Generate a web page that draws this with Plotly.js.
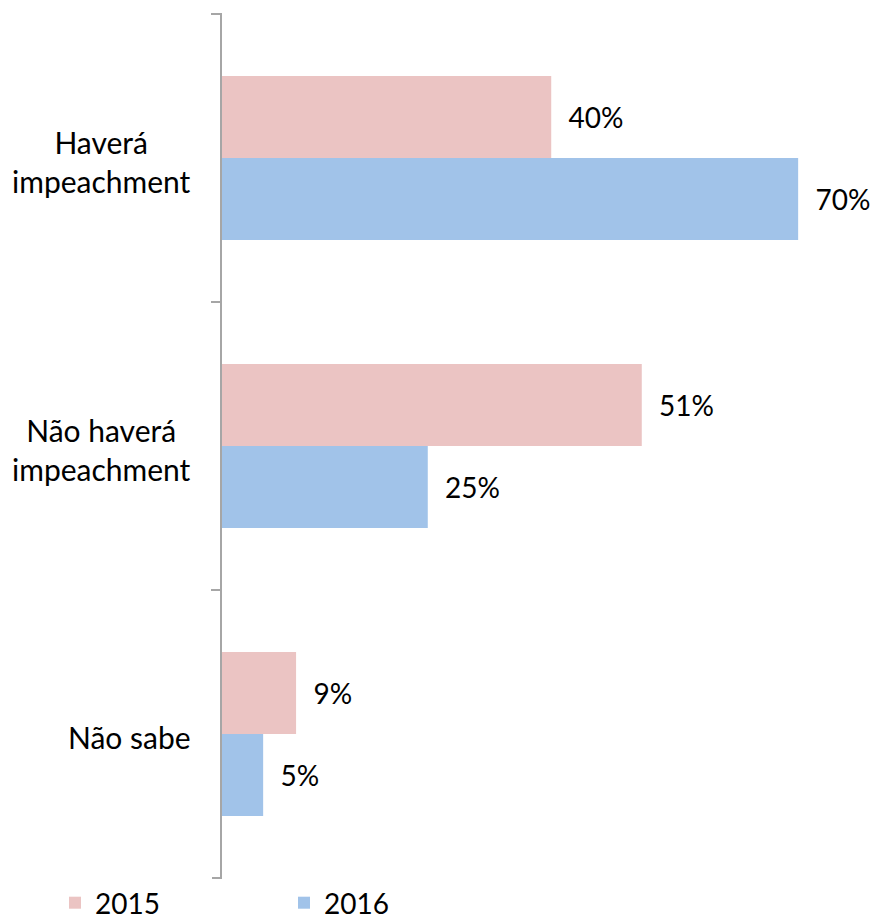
<!DOCTYPE html>
<html>
<head>
<meta charset="utf-8">
<script src="https://cdn.plot.ly/plotly-3.0.1.min.js"></script>
<style>html,body{margin:0;padding:0;background:#fff;}</style>
</head>
<body>
<div id="chart" style="width:872px;height:917px;"></div>
<script>
const categories = ["Haverá<br>impeachment", "Não haverá<br>impeachment", "Não sabe"];
const seriesNames = ["2015", "2016"];
const values2015 = [40, 51, 9];
const values2016 = [70, 25, 5];
const seriesColors = ["#EBC4C3", "#A1C3E9"];

const FONT = "Lato, 'Open Sans', sans-serif";
const NB = "\u00a0\u00a0";
const AXIS_GREY = "#A6A6A6";

function barTrace(name, vals, color) {
  return {
    type: "bar",
    orientation: "h",
    name: name,
    y: categories,
    x: vals,
    marker: {color: color, line: {width: 0}},
    text: vals.map(v => NB + v + "%"),
    textposition: "outside",
    textfont: {family: FONT, size: 28, color: "#000"},
    constraintext: "none",
    cliponaxis: false,
    hoverinfo: "skip"
  };
}

const data = [
  barTrace(seriesNames[0], values2015, seriesColors[0]),
  barTrace(seriesNames[1], values2016, seriesColors[1])
];

// end ticks of the category axis (top and bottom edges of the plot area)
const endTicks = [0, 1].map(py => ({
  type: "line",
  xref: "paper",
  yref: "paper",
  xsizemode: "pixel",
  xanchor: 0,
  x0: -10,
  x1: 0,
  y0: py,
  y1: py,
  line: {color: AXIS_GREY, width: 2}
}));

const layout = {
  width: 872,
  height: 917,
  margin: {l: 222, r: 8, t: 14, b: 37},
  paper_bgcolor: "#fff",
  plot_bgcolor: "#fff",
  font: {family: FONT, size: 28, color: "#000"},
  barmode: "group",
  bargap: 0.43,
  bargroupgap: 0,
  xaxis: {visible: false, range: [0, 78], fixedrange: true},
  yaxis: {
    type: "category",
    categoryarray: categories,
    range: [2.5, -0.5],
    showline: true,
    linecolor: AXIS_GREY,
    linewidth: 2,
    ticks: "outside",
    tickson: "boundaries",
    ticklen: 9,
    tickwidth: 2,
    tickcolor: AXIS_GREY,
    showticklabels: false,
    showgrid: false,
    zeroline: false
  },
  shapes: endTicks,
  showlegend: true,
  legend: {
    orientation: "h",
    xref: "container",
    yref: "container",
    x: 55 / 872,
    xanchor: "left",
    y: 14 / 917,
    yanchor: "middle",
    font: {family: FONT, size: 28, color: "#000"},
    entrywidth: 184,
    entrywidthmode: "pixels",
    traceorder: "normal",
    bgcolor: "rgba(0,0,0,0)"
  },
  annotations: categories.map(c => ({
    xref: "paper",
    yref: "y",
    x: 0,
    y: c,
    xanchor: "right",
    yanchor: "middle",
    xshift: -29,
    yshift: -3,
    align: "center",
    showarrow: false,
    text: c,
    font: {family: FONT, size: 30, color: "#000"}
  }))
};

Plotly.newPlot("chart", data, layout, {displayModeBar: false, staticPlot: true});
</script>
</body>
</html>
